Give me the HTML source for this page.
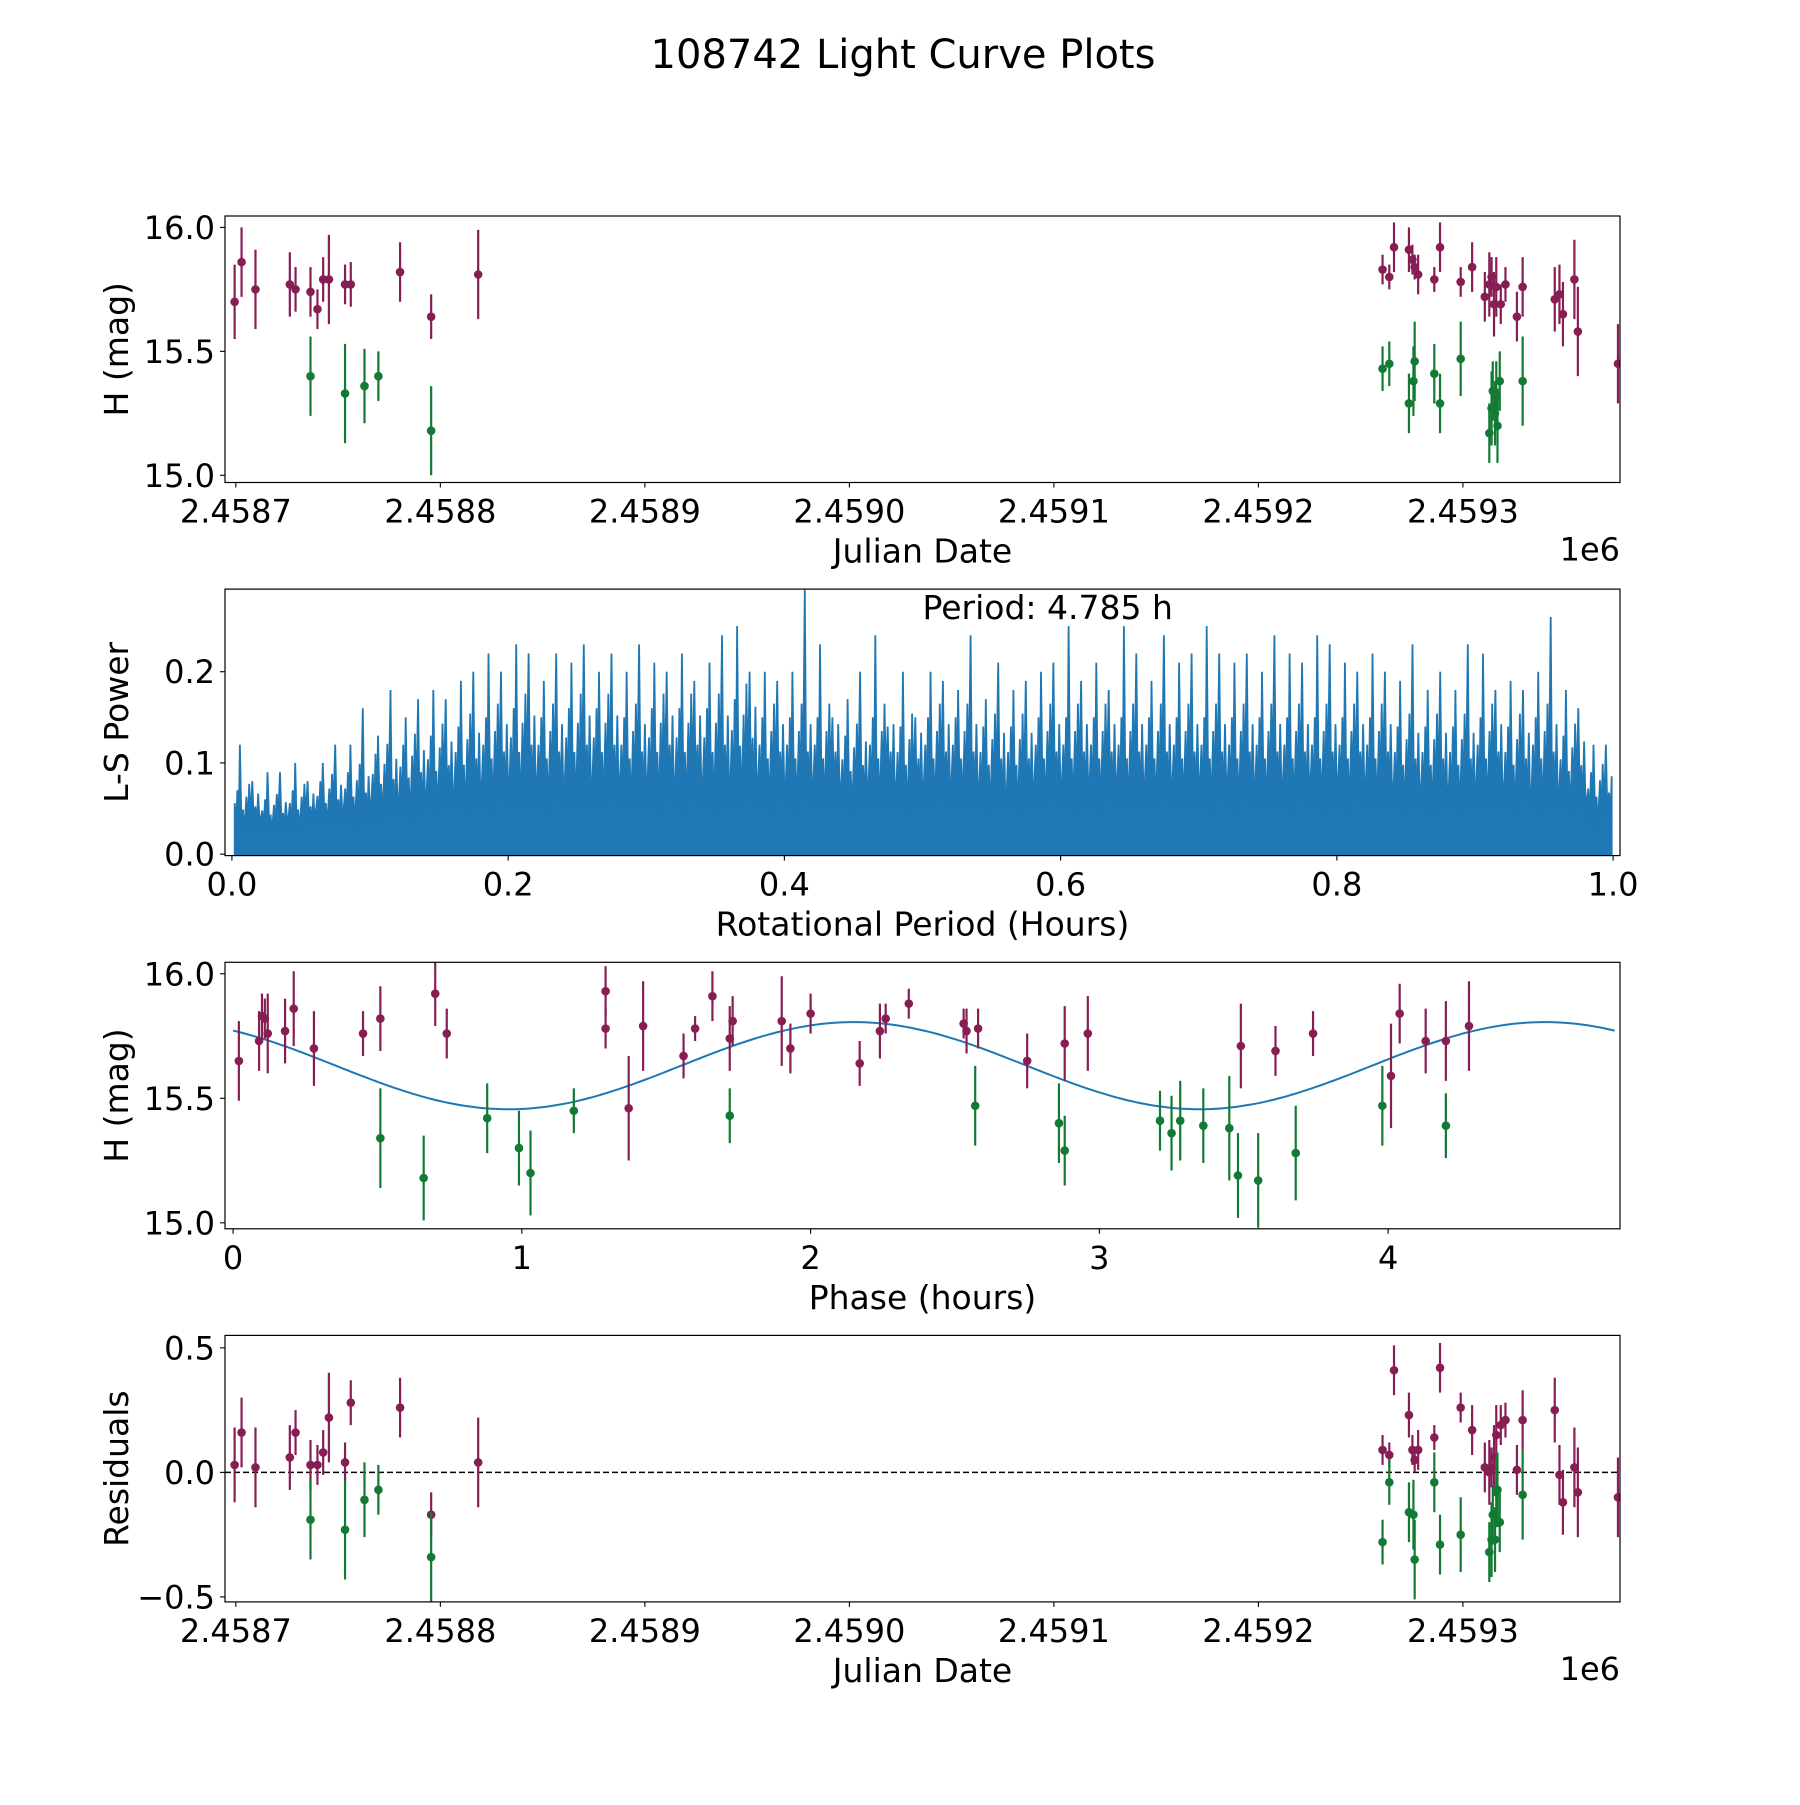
<!DOCTYPE html>
<html><head><meta charset="utf-8">
<style>
html,body{margin:0;padding:0;background:#fff;}
svg text{font-family:"DejaVu Sans","Liberation Sans",sans-serif;fill:#000;}
</style></head>
<body>
<svg id="fig" width="1800" height="1800" viewBox="0 0 1800 1800" xmlns="http://www.w3.org/2000/svg">
<rect width="1800" height="1800" fill="#fff"/>
<text x="903" y="68" font-size="40" text-anchor="middle">108742 Light Curve Plots</text>
</svg>
<script>
// ---- Panel 1: light curve (days relative to 2458700) ----
const purpleDays=[-0.6,2.8,9.6,26.4,29.2,36.5,39.9,42.7,45.5,53.4,56.2,80.3,95.5,118.5,560.7,564.0,566.3,573.6,575.3,576.4,578.1,586.0,588.8,598.9,604.5,610.7,612.9,614.0,615.2,616.3,618.5,620.8,626.4,629.2,644.9,647.2,648.9,654.5,656.2,675.8];
const purpleMag=[15.70,15.86,15.75,15.77,15.75,15.74,15.67,15.79,15.79,15.77,15.77,15.82,15.64,15.81,15.83,15.80,15.92,15.91,15.87,15.84,15.81,15.79,15.92,15.78,15.84,15.72,15.77,15.80,15.69,15.76,15.69,15.77,15.64,15.76,15.71,15.73,15.65,15.79,15.58,15.45];
const purpleErr=[0.15,0.14,0.16,0.13,0.09,0.10,0.08,0.09,0.18,0.08,0.09,0.12,0.09,0.18,0.06,0.05,0.10,0.09,0.06,0.05,0.08,0.05,0.10,0.06,0.10,0.10,0.13,0.08,0.13,0.12,0.08,0.07,0.10,0.12,0.13,0.12,0.13,0.16,0.18,0.16];
const greenDays=[36.5,53.4,62.9,69.7,95.5,560.7,564.0,573.6,575.8,576.4,586.0,588.8,598.9,612.9,614.0,614.6,615.7,616.3,616.9,618.0,629.2];
const greenMag=[15.40,15.33,15.36,15.40,15.18,15.43,15.45,15.29,15.38,15.46,15.41,15.29,15.47,15.17,15.27,15.34,15.25,15.32,15.20,15.38,15.38];
const greenErr=[0.16,0.20,0.15,0.10,0.18,0.09,0.09,0.12,0.14,0.16,0.12,0.12,0.15,0.12,0.15,0.12,0.13,0.14,0.15,0.12,0.18];
const jdTickDays=[0,100,200,300,400,500,600];
const jdTickLabels=["2.4587","2.4588","2.4589","2.4590","2.4591","2.4592","2.4593"];
const magTicks=[15.0,15.5,16.0];
const magTickLabels=["15.0","15.5","16.0"];
// ---- Panel 2: periodogram (peak power per 0.02 h bin) ----
const lsBinStart=[0,0.02,0.04,0.06,0.08,0.10,0.12,0.14,0.16,0.18,0.20,0.22,0.24,0.26,0.28,0.30,0.32,0.34,0.36,0.38,0.40,0.42,0.44,0.46,0.48,0.50,0.52,0.54,0.56,0.58,0.60,0.62,0.64,0.66,0.68,0.70,0.72,0.74,0.76,0.78,0.80,0.82,0.84,0.86,0.88,0.90,0.92,0.94,0.96,0.98];
const lsPeakA=[0.12,0.09,0.10,0.10,0.12,0.13,0.15,0.18,0.19,0.22,0.23,0.19,0.21,0.20,0.20,0.21,0.22,0.21,0.25,0.20,0.20,0.23,0.17,0.24,0.20,0.20,0.18,0.17,0.18,0.20,0.25,0.21,0.25,0.19,0.21,0.25,0.21,0.20,0.22,0.24,0.21,0.22,0.19,0.18,0.18,0.22,0.19,0.20,0.18,0.12];
const lsPeakB=[0.08,0.09,0.08,0.12,0.16,0.18,0.17,0.17,0.20,0.20,0.22,0.22,0.23,0.22,0.23,0.20,0.19,0.24,0.20,0.19,0.29,0.15,0.20,0.14,0.15,0.19,0.24,0.21,0.19,0.21,0.19,0.18,0.22,0.24,0.22,0.22,0.22,0.24,0.21,0.23,0.20,0.20,0.23,0.20,0.23,0.18,0.18,0.26,0.16,0.12];
const lsMid=[0.07,0.06,0.07,0.08,0.09,0.11,0.12,0.13,0.14,0.15,0.16,0.15,0.16,0.16,0.15,0.16,0.16,0.16,0.17,0.15,0.15,0.15,0.13,0.15,0.14,0.15,0.15,0.14,0.14,0.15,0.15,0.15,0.15,0.15,0.15,0.15,0.15,0.15,0.15,0.15,0.15,0.15,0.14,0.14,0.14,0.15,0.14,0.15,0.13,0.09];
const lsBase=[0.04,0.04,0.04,0.05,0.05,0.06,0.06,0.07,0.07,0.08,0.08,0.08,0.08,0.08,0.08,0.08,0.08,0.08,0.08,0.08,0.08,0.08,0.07,0.08,0.07,0.08,0.08,0.07,0.07,0.08,0.08,0.08,0.08,0.08,0.08,0.08,0.08,0.08,0.08,0.08,0.08,0.08,0.07,0.07,0.07,0.08,0.07,0.07,0.07,0.05];
const lsTicksX=[0,0.2,0.4,0.6,0.8,1.0];
const lsTickLabelsX=["0.0","0.2","0.4","0.6","0.8","1.0"];
const lsTicksY=[0,0.1,0.2];
const lsTickLabelsY=["0.0","0.1","0.2"];
// ---- Panel 3: phase-folded ----
const phasePurple=[0.02,0.09,0.10,0.11,0.12,0.18,0.21,0.28,0.45,0.51,0.70,0.74,1.29,1.29,1.37,1.42,1.56,1.60,1.66,1.72,1.73,1.90,1.93,2.00,2.17,2.24,2.26,2.34,2.53,2.54,2.58,2.75,2.88,2.96,3.49,3.61,3.74,4.04,4.01,4.13,4.20,4.28];
const phasePurpleMag=[15.65,15.73,15.83,15.82,15.76,15.77,15.86,15.70,15.76,15.82,15.92,15.76,15.93,15.78,15.46,15.79,15.67,15.78,15.91,15.74,15.81,15.81,15.70,15.84,15.64,15.77,15.82,15.88,15.80,15.77,15.78,15.65,15.72,15.76,15.71,15.69,15.76,15.84,15.59,15.73,15.73,15.79];
const phasePurpleErr=[0.16,0.12,0.09,0.08,0.16,0.13,0.15,0.15,0.09,0.13,0.13,0.10,0.10,0.08,0.21,0.18,0.09,0.05,0.10,0.13,0.10,0.18,0.10,0.08,0.09,0.11,0.06,0.06,0.06,0.09,0.08,0.11,0.15,0.15,0.17,0.10,0.09,0.12,0.21,0.13,0.16,0.18];
const phaseGreen=[0.51,0.66,0.88,0.99,1.03,1.18,1.72,2.57,2.86,2.88,3.21,3.25,3.28,3.36,3.45,3.48,3.55,3.68,3.98,4.20];
const phaseGreenMag=[15.34,15.18,15.42,15.30,15.20,15.45,15.43,15.47,15.40,15.29,15.41,15.36,15.41,15.39,15.38,15.19,15.17,15.28,15.47,15.39];
const phaseGreenErr=[0.20,0.17,0.14,0.15,0.17,0.09,0.11,0.16,0.16,0.14,0.12,0.15,0.16,0.15,0.21,0.17,0.19,0.19,0.16,0.13];
const fitParams=[15.631,0.175,2.3925,2.15]; // mean, amplitude, half-period, phase of max
const phaseTicks=[0,1,2,3,4];
const phaseTickLabels=["0","1","2","3","4"];
// ---- Panel 4: residuals ----
const residPurple=[0.03,0.16,0.02,0.06,0.16,0.03,0.03,0.08,0.22,0.04,0.28,0.26,-0.17,0.04,0.09,0.07,0.41,0.23,0.09,0.05,0.09,0.14,0.42,0.26,0.17,0.02,0.00,0.02,0.06,0.15,0.19,0.21,0.01,0.21,0.25,-0.01,-0.12,0.02,-0.08,-0.10];
const residGreen=[-0.19,-0.23,-0.11,-0.07,-0.34,-0.28,-0.04,-0.16,-0.17,-0.35,-0.04,-0.29,-0.25,-0.32,-0.27,-0.17,-0.27,-0.08,-0.07,-0.20,-0.09];
const residTicks=[-0.5,0,0.5];
const residTickLabels=["\u22120.5","0.0","0.5"];

const NS="http://www.w3.org/2000/svg";
const svg=document.getElementById('fig');
const PURPLE="#861e54", GREEN="#137a33", BLUE="#1f77b4";
const AX_L=225, AX_R=1620, AX_H=266.5;
const TOPS=[216,589.1,962.3,1335.4];
const TICK_FS=32, LABEL_FS=33;
function el(tag,attrs,parent){const e=document.createElementNS(NS,tag);for(const k in attrs)e.setAttribute(k,attrs[k]);(parent||svg).appendChild(e);return e;}
function scale(d0,d1,r0,r1){return v=>r0+(v-d0)/(d1-d0)*(r1-r0);}

function makeAxes(idx,name,xd,yd){
  const top=TOPS[idx],bot=top+AX_H;
  const g=el('g',{});
  
  
  const clipId='clip'+idx;
  const cp=el('clipPath',{id:clipId},g);
  el('rect',{x:AX_L,y:top,width:AX_R-AX_L,height:AX_H},cp);
  const plot=el('g',{'clip-path':'url(#'+clipId+')'},g);
  
  
  return {g,plot,top,bot,x:scale(xd[0],xd[1],AX_L,AX_R),y:scale(yd[0],yd[1],bot,top)};
}
function frame(ax,name){
  const r=el('rect',{x:AX_L,y:ax.top,width:AX_R-AX_L,height:AX_H,fill:'none',stroke:'#000','stroke-width':1.2},ax.g);
  
  
}
function xTicks(ax,vals,labels,name){
  vals.forEach((v,i)=>{
    const px=ax.x(v);
    const t=el('line',{x1:px,x2:px,y1:ax.bot,y2:ax.bot+5,stroke:'#000','stroke-width':1.1},ax.g);
    
    
    const tx=el('text',{x:px,y:ax.bot+40,'font-size':TICK_FS,'text-anchor':'middle'},ax.g);
    
    
    tx.textContent=labels[i];
  });
}
function yTicks(ax,vals,labels,name){
  vals.forEach((v,i)=>{
    const py=ax.y(v);
    const t=el('line',{x1:AX_L-5,x2:AX_L,y1:py,y2:py,stroke:'#000','stroke-width':1.1},ax.g);
    
    
    const tx=el('text',{x:AX_L-10,y:py+11.5,'font-size':TICK_FS,'text-anchor':'end'},ax.g);
    
    
    tx.textContent=labels[i];
  });
}
function labels(ax,xl,yl,name){
  const t=el('text',{x:(AX_L+AX_R)/2,y:ax.bot+80,'font-size':LABEL_FS,'text-anchor':'middle'},ax.g);
  
  
  t.textContent=xl;
  const cy=(ax.top+ax.bot)/2;
  const u=el('text',{x:128,y:cy,'font-size':LABEL_FS,'text-anchor':'middle',transform:'rotate(-90 128 '+cy+')'},ax.g);
  
  
  u.textContent=yl;
}
function offsetLabel(ax,name){
  const t=el('text',{x:AX_R,y:ax.bot+78,'font-size':TICK_FS,'text-anchor':'end'},ax.g);
  
  
  t.textContent='1e6';
}
function errPoints(ax,xs,ys,es,color,name){
  xs.forEach((xv,i)=>{
    const px=ax.x(xv),py=ax.y(ys[i]);
    if(es){
      const l=el('line',{x1:px,x2:px,y1:ax.y(ys[i]-es[i]),y2:ax.y(ys[i]+es[i]),stroke:color,'stroke-width':2.2},ax.plot);
      
      
    }
    const c=el('circle',{cx:px,cy:py,r:4.3,fill:color},ax.plot);
    
    
  });
}

// Panel 1
const a1=makeAxes(0,'light-curve-axes',[-5.3,676.8],[14.971,16.046]);
errPoints(a1,purpleDays,purpleMag,purpleErr,PURPLE,'light-curve-purple');
errPoints(a1,greenDays,greenMag,greenErr,GREEN,'light-curve-green');
frame(a1,'light-curve');
xTicks(a1,jdTickDays,jdTickLabels,'light-curve');
yTicks(a1,magTicks,magTickLabels,'light-curve');
labels(a1,'Julian Date','H (mag)','light-curve');
offsetLabel(a1,'light-curve');

// Panel 2
const a2=makeAxes(1,'periodogram-axes',[-0.005,1.005],[-0.0016,0.2906]);
(function(){
  let d='M'+a2.x(0.002)+','+a2.y(0);
  lsBinStart.forEach((b,i)=>{
    const pts=[[b+0.001,lsBase[i]],[b+0.002,lsMid[i]*0.8],[b+0.003,lsBase[i]*0.7],[b+0.004,lsMid[i]],[b+0.005,lsBase[i]*0.9],[b+0.0058,lsPeakA[i]],[b+0.0068,lsBase[i]],[b+0.008,lsMid[i]*0.7],[b+0.009,lsBase[i]*0.6],[b+0.0105,lsMid[i]*0.9],[b+0.0115,lsBase[i]*0.8],[b+0.0125,lsMid[i]*1.1],[b+0.0135,lsBase[i]],[b+0.0148,lsPeakB[i]],[b+0.0158,lsBase[i]*0.9],[b+0.017,lsMid[i]*0.75],[b+0.018,lsBase[i]*0.7],[b+0.019,lsMid[i]*0.95],[b+0.0198,lsBase[i]]];
    pts.forEach(p=>{d+=' L'+a2.x(Math.min(Math.max(p[0],0.002),0.999)).toFixed(1)+','+a2.y(p[1]).toFixed(1);});
  });
  d+=' L'+a2.x(0.999)+','+a2.y(0)+' Z';
  const p=el('path',{d:d,fill:BLUE,stroke:BLUE,'stroke-width':1.8,'stroke-linejoin':'miter'},a2.plot);
  
  
})();
frame(a2,'periodogram');
xTicks(a2,lsTicksX,lsTickLabelsX,'periodogram');
yTicks(a2,lsTicksY,lsTickLabelsY,'periodogram');
labels(a2,'Rotational Period (Hours)','L-S Power','periodogram');
(function(){
  const t=el('text',{x:a2.x(0.5),y:a2.top+30,'font-size':LABEL_FS,'text-anchor':'start'},a2.g);
  
  
  t.textContent='Period: 4.785 h';
})();

// Panel 3
const a3=makeAxes(2,'phase-axes',[-0.028,4.803],[14.976,16.046]);
(function(){
  let d='';
  const n=300,end=4.785;
  for(let i=0;i<=n;i++){const t=end*i/n;const v=fitParams[0]+fitParams[1]*Math.cos(2*Math.PI*(t-fitParams[3])/fitParams[2]);d+=(i?' L':'M')+a3.x(t).toFixed(1)+','+a3.y(v).toFixed(1);}
  const p=el('path',{d:d,fill:'none',stroke:BLUE,'stroke-width':2},a3.plot);
  
  
})();
errPoints(a3,phasePurple,phasePurpleMag,phasePurpleErr,PURPLE,'phase-purple');
errPoints(a3,phaseGreen,phaseGreenMag,phaseGreenErr,GREEN,'phase-green');
frame(a3,'phase');
xTicks(a3,phaseTicks,phaseTickLabels,'phase');
yTicks(a3,magTicks,magTickLabels,'phase');
labels(a3,'Phase (hours)','H (mag)','phase');

// Panel 4
const a4=makeAxes(3,'residuals-axes',[-5.3,676.8],[-0.52,0.55]);
(function(){
  const l=el('line',{x1:AX_L,x2:AX_R,y1:a4.y(0),y2:a4.y(0),stroke:'#000','stroke-width':1.6,'stroke-dasharray':'6,3'},a4.plot);
  
  
})();
errPoints(a4,purpleDays,residPurple,purpleErr,PURPLE,'residual-purple');
errPoints(a4,greenDays,residGreen,greenErr,GREEN,'residual-green');
frame(a4,'residuals');
xTicks(a4,jdTickDays,jdTickLabels,'residuals');
yTicks(a4,residTicks,residTickLabels,'residuals');
labels(a4,'Julian Date','Residuals','residuals');
offsetLabel(a4,'residuals');
</script>
</body></html>
